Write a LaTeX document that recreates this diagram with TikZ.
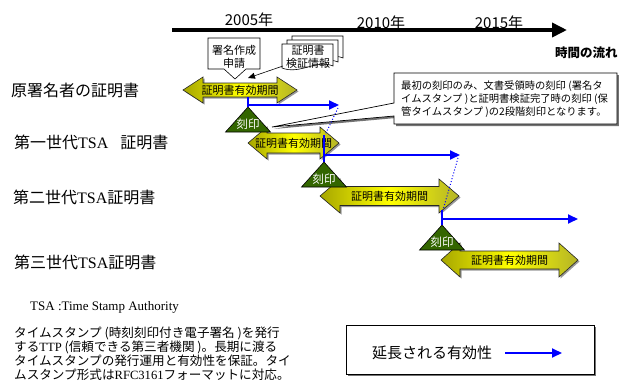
\documentclass[tikz,border=0pt]{standalone}
\usepackage{fontspec}
\setmainfont{Noto Sans CJK JP}
\newfontfamily\serifen{Liberation Serif}
\usetikzlibrary{arrows.meta,shadows}
\definecolor{olivey}{HTML}{A6A600}
\definecolor{brighty}{HTML}{FFFF00}
\definecolor{stampgreen}{HTML}{336600}
\definecolor{tlblue}{HTML}{0000FF}
\tikzset{
  lbl/.style={inner sep=0pt, anchor=west, font=\fontsize{16}{18}\selectfont},
  periodtext/.style={inner sep=0pt, font=\fontsize{11}{12}\selectfont},
  stamptext/.style={inner sep=0pt, text=white, font=\fontsize{11.5}{12}\selectfont},
  yeartext/.style={inner sep=0pt, font=\fontsize{15}{16}\selectfont},
  blueline/.style={draw=tlblue, line width=1.9pt},
  bluetip/.style={-{Triangle[length=10pt,width=9pt]}},
  bluedot/.style={draw=tlblue, line width=1pt, dotted},
  boxshadow/.style={drop shadow={shadow xshift=2pt, shadow yshift=-2pt, fill=black!55, opacity=1}},
  arrshadow/.style={drop shadow={shadow xshift=1.5pt, shadow yshift=-1.5pt, fill=black!40, opacity=1}},
}
% name, x1, x2, yc, head half height, body half height, head length
\newcommand\validarrow[7]{%
  \path[arrshadow, draw=black!85, line width=0.6pt, left color=olivey, right color=olivey!85, middle color=brighty]
    (#2,#4) -- ({#2+#7},{#4-#5}) -- ({#2+#7},{#4-#6}) -- ({#3-#7},{#4-#6}) -- ({#3-#7},{#4-#5})
    -- (#3,#4) -- ({#3-#7},{#4+#5}) -- ({#3-#7},{#4+#6}) -- ({#2+#7},{#4+#6}) -- ({#2+#7},{#4+#5}) -- cycle;
  \node[periodtext] (#1) at ({(#2+#3)/2},#4) {証明書有効期間};
}
% name, apex x, apex y
\newcommand\stamptri[3]{%
  \path[fill=stampgreen, draw=black, line width=0.6pt] (#2,#3) -- ({#2-22.5},{#3+25}) -- ({#2+22.5},{#3+25}) -- cycle;
  \node[stamptext] (#1) at (#2,{#3+17.5}) {刻印};
}
% doc sheet at x,y
\newcommand\docsheet[2]{%
  \path[fill=white, draw=black, line width=0.6pt] (#1,#2) -- ({#1+51},#2) -- ({#1+51},{#2+22})
    .. controls ({#1+34},{#2+15}) and ({#1+18},{#2+31}) .. (#1,{#2+24}) -- cycle;
}
\begin{document}
\begin{tikzpicture}[x=1pt,y=-1pt]
\useasboundingbox (0,0) rectangle (619,383);

% timeline
\coordinate (tl0) at (172,30);
\coordinate (tl1) at (567,30);
\draw[line width=3.6pt, -{Triangle[length=15pt,width=14pt]}] (tl0) -- (tl1);
\node[yeartext] (y2005) at (249,20) {2005年};
\node[yeartext] (y2010) at (381,23) {2010年};
\node[yeartext] (y2015) at (499,23) {2015年};
\node[inner sep=0pt, anchor=west, font=\fontsize{12.5}{13}\selectfont\bfseries] (flow) at (555,53) {時間の流れ};

% signature request callout
\path[fill=white, draw=black, line width=0.6pt] (208,38) -- (260,38) -- (260,69) -- (246,69) -- (235,79) -- (224,69) -- (208,69) -- cycle;
\node[inner sep=0pt, align=center, font=\fontsize{11}{13}\selectfont] (sig) at (234,56.5) {署名作成\\申請};

% certificate verification info (multi document)
\docsheet{292}{36}
\docsheet{287}{40}
\docsheet{282}{44}
\node[inner sep=0pt, align=center, font=\fontsize{11}{13}\selectfont] (docs) at (308,56.5) {証明書\\検証情報};
\coordinate (docfoot) at (283,66);

% validity arrows
\validarrow{p1}{183}{297}{90}{13}{7}{20}
\validarrow{p2}{248}{339}{143}{16}{10}{19}
\validarrow{p3}{320}{459}{196}{17}{9.5}{20}
\validarrow{p4}{441}{578}{260}{17}{9}{19}

\coordinate (p1top) at (248,78);
\draw[line width=0.6pt, -{Triangle[length=7pt,width=6pt]}] (docfoot) -- (p1top);

% stamps
\stamptri{s1}{248}{107}
\stamptri{s2}{324}{162}
\stamptri{s3}{442}{225}

% explanation callout
\path[boxshadow, fill=white, draw=black, line width=0.7pt] (394,73) -- (617,73) -- (617,124) -- (394,124) -- (394,116) -- (272,127) -- (394,103) -- cycle;
\node[inner sep=0pt, anchor=west, align=left, font=\fontsize{10.3}{13}\selectfont] (note) at (401,99.5)
  {最初の刻印のみ、文書受領時の刻印 (署名タ\\イムスタンプ )と証明書検証完了時の刻印 (保\\管タイムスタンプ )の2段階刻印となります。};

% blue extension lines
\coordinate (v1a) at (248,97);
\coordinate (v1b) at (248,107);
\coordinate (h1a) at (248,105);
\coordinate (h1b) at (339,105);
\coordinate (d1a) at (338,108);
\coordinate (d1b) at (325,135);
\coordinate (v2a) at (324,135);
\coordinate (v2b) at (324,162);
\coordinate (h2a) at (324,155);
\coordinate (h2b) at (460,155);
\coordinate (d2a) at (458,158);
\coordinate (d2b) at (443,210);
\coordinate (v3a) at (442,210);
\coordinate (v3b) at (442,225);
\coordinate (h3a) at (442,219);
\coordinate (h3b) at (578,219);
\draw[blueline] (v1a) -- (v1b);
\draw[blueline, bluetip] (h1a) -- (h1b);
\draw[bluedot] (d1a) -- (d1b);
\draw[blueline] (v2a) -- (v2b);
\draw[blueline, bluetip] (h2a) -- (h2b);
\draw[bluedot] (d2a) -- (d2b);
\draw[blueline] (v3a) -- (v3b);
\draw[blueline, bluetip] (h3a) -- (h3b);

% row labels
\node[lbl] (l1) at (11,90) {原署名者の証明書};
\node[lbl] (l2) at (14,142) {第一世代{\serifen TSA}\hspace{12pt}証明書};
\node[lbl] (l3) at (13,197) {第二世代{\serifen TSA}証明書};
\node[lbl] (l4) at (14,262) {第三世代{\serifen TSA}証明書};

% footnotes
\node[inner sep=0pt, anchor=west, font=\serifen\fontsize{13}{14}\selectfont] (tsadef) at (30,307) {TSA :Time Stamp Authority};
\node[inner sep=0pt, anchor=west, align=left, font=\fontsize{12.6}{14}\selectfont] (desc) at (14,354)
  {タイムスタンプ (時刻刻印付き電子署名 )を発行\\する{\serifen TTP} (信頼できる第三者機関 )。長期に渡る\\タイムスタンプの発行運用と有効性を保証。タイ\\ムスタンプ形式は{\serifen RFC3161}フォーマットに対応。};

% legend
\node[boxshadow, fill=white, draw=black, line width=0.7pt, minimum width=248pt, minimum height=49pt, inner sep=0pt] (legend) at (470,349.5) {};
\node[inner sep=0pt, font=\fontsize{15}{16}\selectfont] (legtext) at (432,353) {延長される有効性};
\coordinate (lega) at (505,353);
\coordinate (legb) at (562,353);
\draw[blueline, bluetip] (lega) -- (legb);
\end{tikzpicture}
\end{document}
